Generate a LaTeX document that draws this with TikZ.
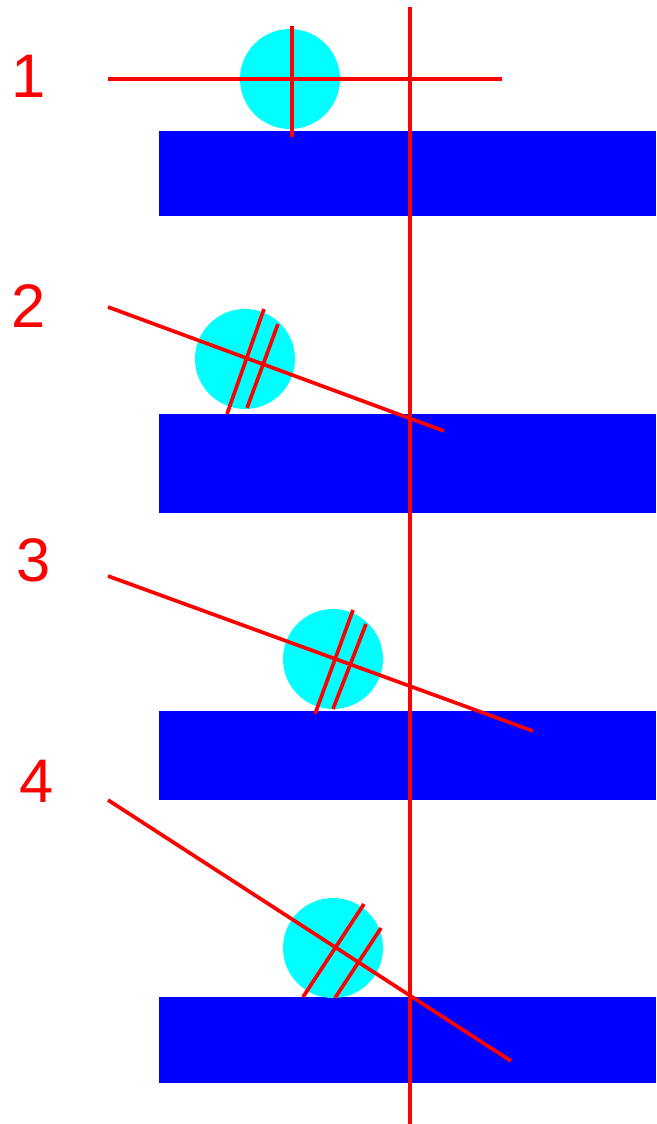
\documentclass[tikz,border=0pt]{standalone}
\usepackage{fontspec}
\setmainfont{Liberation Sans}
\usepackage{xcolor}
\usetikzlibrary{positioning}
\definecolor{dRed}{RGB}{255,0,0}
\definecolor{dBar}{RGB}{0,0,255}
\definecolor{dBall}{RGB}{0,255,255}
\tikzset{
  bar/.style={fill=dBar, draw=none},
  ball/.style={circle, fill=dBall, draw=none, minimum size=2cm, inner sep=0pt},
  rline/.style={draw=dRed, line width=2.1pt},
  num/.style={text=dRed, font=\fontsize{35}{35}\selectfont, inner sep=0pt},
}
\begin{document}
\begin{tikzpicture}[x=0.02cm, y=-0.02cm]
  \useasboundingbox (0,0) rectangle (656,1124);
  % bars
  \fill[bar] (159,131) rectangle (656,216);
  \fill[bar] (159,414) rectangle (656,513);
  \fill[bar] (159,711) rectangle (656,800);
  \fill[bar] (159,997) rectangle (656,1083);
  % balls
  \node[ball] (b1) at (290,79) {};
  \node[ball] (b2) at (245,359) {};
  \node[ball] (b3) at (333,659) {};
  \node[ball] (b4) at (333,948) {};
  % labels
  \node[num] (n1) at (29,76) {1};
  \node[num] (n2) at (29,306) {2};
  \node[num] (n3) at (34,560) {3};
  \node[num] (n4) at (37,781) {4};
  % vertical axis
  \draw[rline] (410,7) -- (410,1124);
  % case 1
  \draw[rline] (108,79) -- (502,79);
  \draw[rline] (292,26) -- (292,137);
  % case 2
  \draw[rline] (108,307) -- (444,431);
  \draw[rline] (264,309) -- (227,414);
  \draw[rline] (278,324) -- (247,408);
  % case 3
  \draw[rline] (108,576) -- (533,731);
  \draw[rline] (353,610) -- (315,714);
  \draw[rline] (366,624) -- (333,709);
  % case 4
  \draw[rline] (108,800) -- (511,1061);
  \draw[rline] (364,904) -- (303,997);
  \draw[rline] (381,928) -- (335,998);
\end{tikzpicture}
\end{document}
